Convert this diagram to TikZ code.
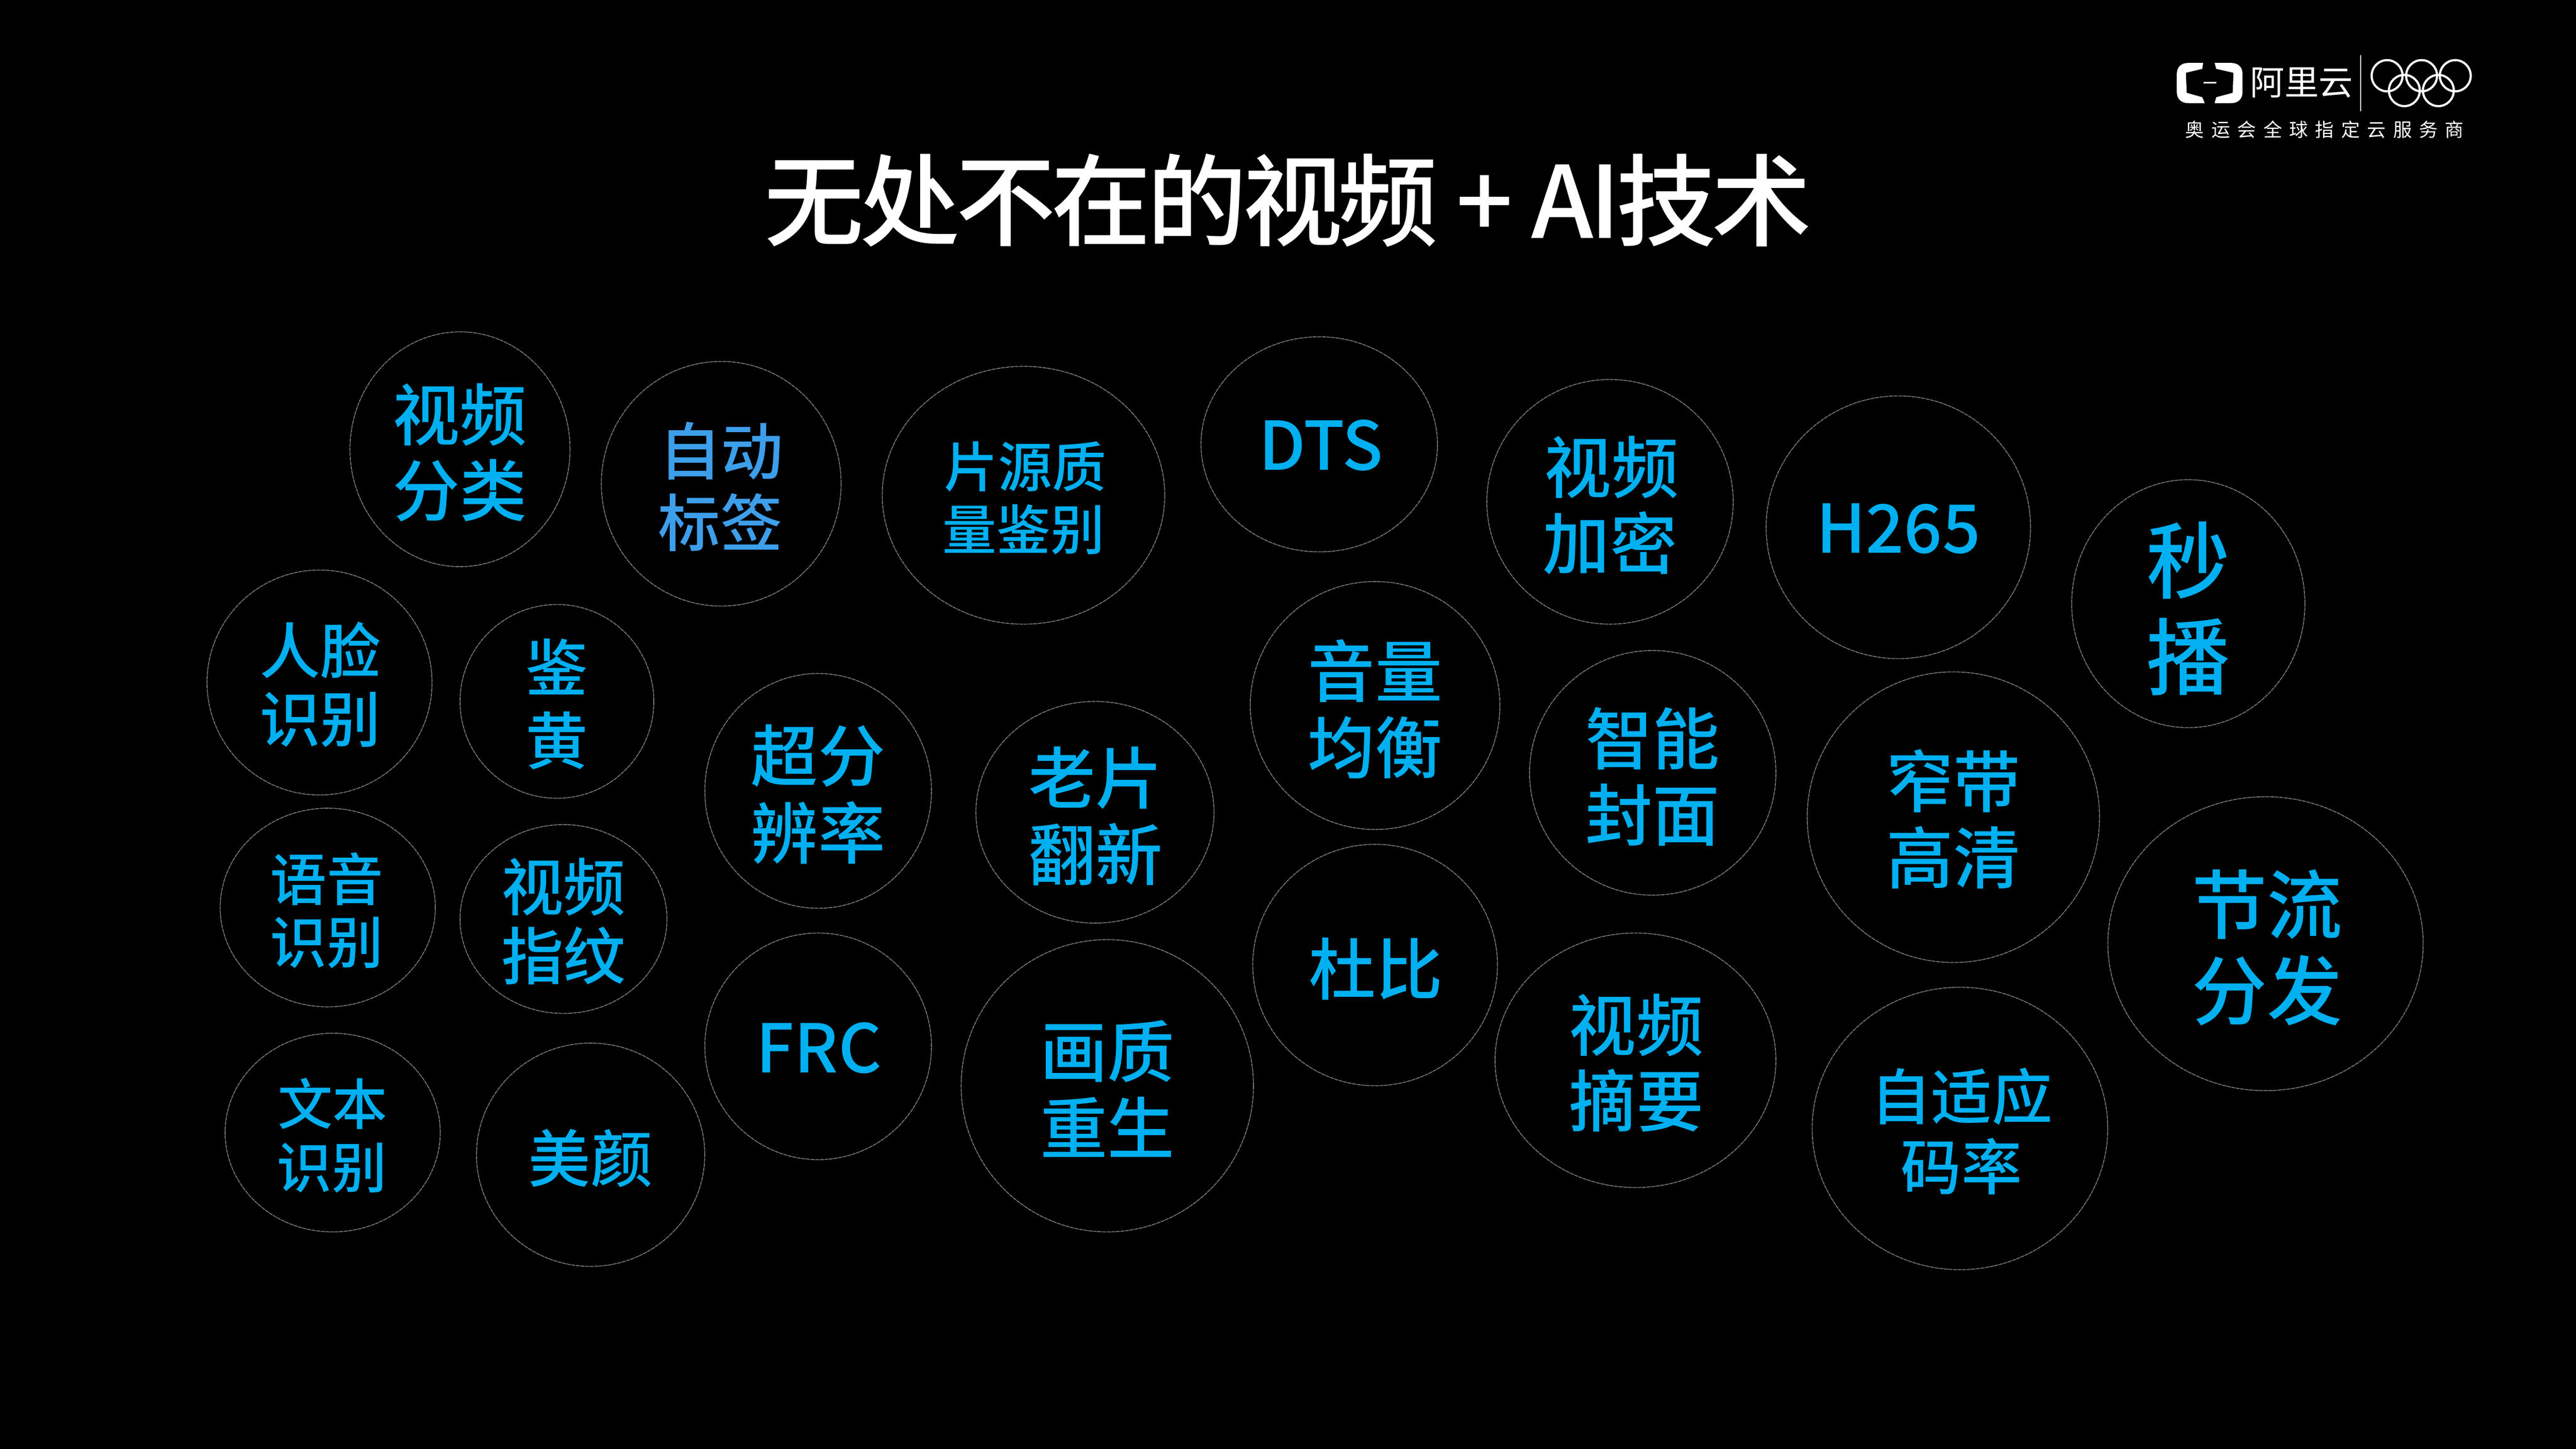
\documentclass[tikz,border=0pt]{standalone}
\usepackage{fontspec}
\usetikzlibrary{shapes.geometric}
\setmainfont{Noto Sans CJK SC Medium}
\newfontfamily\logofont{Noto Sans CJK SC}
\newfontfamily\spaced[LetterSpace=38]{Noto Sans CJK SC}
\newfontfamily\tight[LetterSpace=-4.2]{Noto Sans CJK SC Medium}
\newdimen\fsd
\newcommand\fs[1]{\fsd=#1pt \fsd=0.567\fsd \fontsize{\the\fsd}{\the\fsd}\selectfont}
\definecolor{bluetxt}{HTML}{00B0F0}
\definecolor{bluealt}{HTML}{3D9EEA}
\definecolor{ringc}{HTML}{7A7A7A}
\tikzset{
  x=0.02cm,y=-0.02cm,
  bubble/.style={ellipse,draw=ringc,line width=0.3pt,dash pattern=on 1.4pt off 0.2pt,inner sep=0pt},
  lab/.style={text=bluetxt,inner sep=0pt,anchor=center},
  logoink/.style={fill=white,draw=none},
  ring/.style={draw=white,line width=0.75pt}
}
\newcommand\bub[5]{\node[bubble,minimum width=#4*0.04cm,minimum height=#5*0.04cm] (#1) at (#2,#3) {};}
\begin{document}
\begin{tikzpicture}
\useasboundingbox (0,0) rectangle (1568,881.85);
\fill[black] (-5,-5) rectangle (1575,890);
% title
\node[inner sep=0pt,text=white,anchor=center] (title) at (784,122) {\tight\fs{61}无处不在的视频 + AI技术};
% logo
\path[logoink] (1341,38.3) -- (1332,38.3) .. controls (1327.5,38.3) and (1325,41) .. (1325,45) -- (1325,56) .. controls (1325,60) and (1327.5,62.8) .. (1332,62.8) -- (1342,62.8) -- (1340.5,59.2) -- (1331,56.5) -- (1330.5,44.3) -- (1340.5,41.9) -- cycle;
\path[logoink] (1348,38.3) -- (1358,38.3) .. controls (1362.5,38.3) and (1365,41) .. (1365,45) -- (1365,56) .. controls (1365,60) and (1362.5,62.8) .. (1358,62.8) -- (1348,62.8) -- (1349,59.2) -- (1359,56.5) -- (1359.5,44.3) -- (1349,41.9) -- cycle;
\path[logoink] (1341.4,50) rectangle (1349,50.9);
\node[inner sep=0pt,text=white] (brand) at (1401,50.5) {\logofont\fs{21}阿里云};
\draw[draw=white,line width=0.3pt] (1437,33.4) -- (1437,67.6);
\foreach \n/\cx/\cy in {a/1453/46.1,b/1474/46.1,c/1494.5/46.1,d/1463.5/55.1,e/1484.2/55.1}
  \draw[ring] (\cx,\cy) ellipse [x radius=9.4,y radius=9.5];
\node[inner sep=0pt,text=white] (slogan) at (1415,79) {\spaced\fs{11.5}奥运会全球指定云服务商};
% bubbles
\bub{b1}{280}{273.5}{67}{71.5}
\bub{b2}{439}{294.5}{73}{74.5}
\bub{b3}{623}{301.5}{86}{78.5}
\bub{b4}{803}{270.5}{72}{65.5}
\bub{b5}{980}{305.5}{75}{74.5}
\bub{b6}{1155.5}{321}{80.5}{80}
\bub{b7}{1332}{367.5}{71}{75.5}
\bub{b8}{194.5}{415.5}{68.5}{68.5}
\bub{b9}{339}{427}{59}{59}
\bub{b10}{498}{481.5}{69}{71.5}
\bub{b11}{666.5}{494.5}{72.5}{67.5}
\bub{b12}{837}{429.5}{76}{75.5}
\bub{b13}{1006}{470.5}{75}{74.5}
\bub{b14}{1189}{497.5}{89}{88.5}
\bub{b15}{1379}{574.5}{96}{89.5}
\bub{b16}{199.5}{552.5}{65.5}{60.5}
\bub{b17}{343}{559.5}{63}{57.5}
\bub{b18}{498}{637}{69}{69}
\bub{b19}{674}{661}{89}{89}
\bub{b20}{837}{587.5}{74.5}{73.5}
\bub{b21}{995.5}{645.5}{85.5}{77.5}
\bub{b22}{1193}{687}{90}{86}
\bub{b23}{202.5}{689.5}{65.5}{60.5}
\bub{b24}{359.5}{703}{69.5}{68}
% labels
\foreach \n/\x/\y/\s/\t in {
 t1a/280/252.5/41/视频, t1b/280/298.5/41/分类,
 t3a/624/284/33/片源质, t3b/623/322.5/33/量鉴别,
 t4/804/271/41/DTS,
 t5a/981/284.5/41/视频, t5b/980/330.5/41/加密,
 t6/1155.5/322/41/H265,
 t7a/1332/341/51/秒, t7b/1332/400/51/播,
 t8a/195/396/37/人脸, t8b/195/438/37/识别,
 t9a/339/406/38/鉴, t9b/339/451/38/黄,
 t10a/498/460/41/超分, t10b/498/507/41/辨率,
 t11a/667/473.5/41/老片, t11b/667/520/41/翻新,
 t12a/837/408.5/41/音量, t12b/837/455/41/均衡,
 t13a/1006/449.5/41/智能, t13b/1006/496/41/封面,
 t14a/1189/475.5/41/窄带, t14b/1189/522/41/高清,
 t15a/1380/550.5/46/节流, t15b/1380/603/46/分发,
 t16a/199/535/34.5/语音, t16b/199/574/34.5/识别,
 t17a/343/540/38/视频, t17b/343/582/38/指纹,
 t18/498.5/638/41/FRC,
 t19a/674/640/41/画质, t19b/674/686/41/重生,
 t20/837.5/590/41/杜比,
 t21a/996/624/41/视频, t21b/996/670/41/摘要,
 t22a/1194/667.5/37/自适应, t22b/1194/710/37/码率,
 t23a/202.5/672/33.5/文本, t23b/202/711/33.5/识别,
 t24/359.5/705/38/美颜}
  \node[lab] (\n) at (\x,\y) {\fs{\s}\t};
\node[lab,text=bluealt] (t2a) at (439,274.5) {\fs{38}自动};
\node[lab,text=bluealt] (t2b) at (438.5,318) {\fs{38}标签};
\end{tikzpicture}
\end{document}
